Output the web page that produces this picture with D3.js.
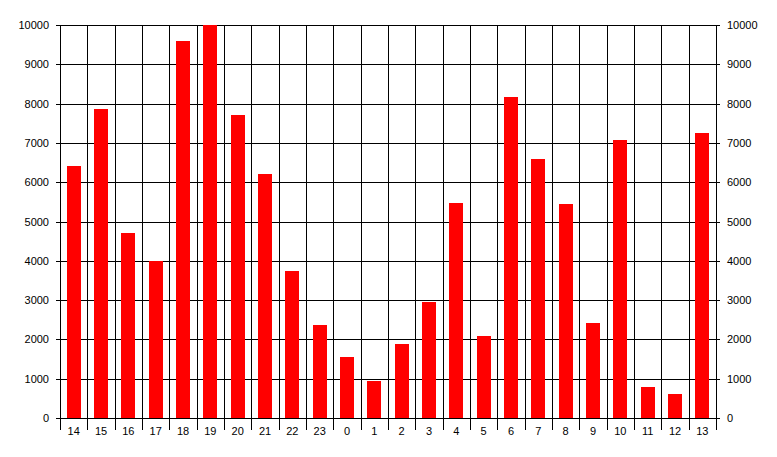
<!DOCTYPE html>
<html>
<head>
<meta charset="utf-8">
<script src="https://cdn.jsdelivr.net/npm/d3@7"></script>
<style>
  body { margin: 0; background: #fff; }
  text { font-family: Arial, "Liberation Sans", sans-serif; font-size: 11px; fill: #000; }
</style>
</head>
<body>
<svg width="777" height="457"></svg>
<script>
var hours = ["14","15","16","17","18","19","20","21","22","23","0","1","2","3","4","5","6","7","8","9","10","11","12","13"];
var counts = [6400,7850,4700,4000,9600,10000,7720,6210,3750,2370,1560,950,1890,2960,5480,2090,8180,6600,5450,2420,7080,800,600,7260];
var yTicks = [0,1000,2000,3000,4000,5000,6000,7000,8000,9000,10000];

var svg = d3.select("svg"),
    plotLeft = 60, plotRight = 716, plotTop = 25, plotBottom = 418;

var x = d3.scaleBand().domain(hours).range([plotLeft, plotRight]).paddingInner(0).paddingOuter(0);
var y = d3.scaleLinear().domain([0, 10000]).range([plotBottom, plotTop]);

// horizontal grid + ticks on both sides
svg.append("g").selectAll("line")
  .data(yTicks)
  .enter().append("line")
    .attr("x1", plotLeft - 4).attr("x2", plotRight + 4)
    .attr("y1", function(d) { return Math.round(y(d)) + 0.5; })
    .attr("y2", function(d) { return Math.round(y(d)) + 0.5; })
    .attr("stroke", "#000");

// vertical grid at category boundaries, running down into the label area
var bounds = hours.map(function(h) { return x(h); }).concat([plotRight]);
svg.append("g").selectAll("line")
  .data(bounds)
  .enter().append("line")
    .attr("x1", function(d) { return Math.round(d) + 0.5; })
    .attr("x2", function(d) { return Math.round(d) + 0.5; })
    .attr("y1", plotTop).attr("y2", plotBottom + 12)
    .attr("stroke", "#000");

// bars
var bw = 14;
svg.append("g").selectAll("rect")
  .data(counts)
  .enter().append("rect")
    .attr("x", function(d, i) { return Math.round(x(hours[i]) + x.bandwidth() / 2 - bw / 2); })
    .attr("width", bw)
    .attr("y", function(d) { return Math.round(y(d)); })
    .attr("height", function(d) { return plotBottom - Math.round(y(d)); })
    .attr("fill", "#ff0000");

// y labels left and right
svg.append("g").selectAll("text")
  .data(yTicks)
  .enter().append("text")
    .attr("x", 49)
    .attr("y", function(d) { return y(d) + 4; })
    .attr("text-anchor", "end")
    .text(function(d) { return d; });

svg.append("g").selectAll("text")
  .data(yTicks)
  .enter().append("text")
    .attr("x", 727)
    .attr("y", function(d) { return y(d) + 4; })
    .text(function(d) { return d; });

// category labels
svg.append("g").selectAll("text")
  .data(hours)
  .enter().append("text")
    .attr("x", function(d) { return x(d) + x.bandwidth() / 2; })
    .attr("y", 435)
    .attr("text-anchor", "middle")
    .text(function(d) { return d; });
</script>
</body>
</html>
